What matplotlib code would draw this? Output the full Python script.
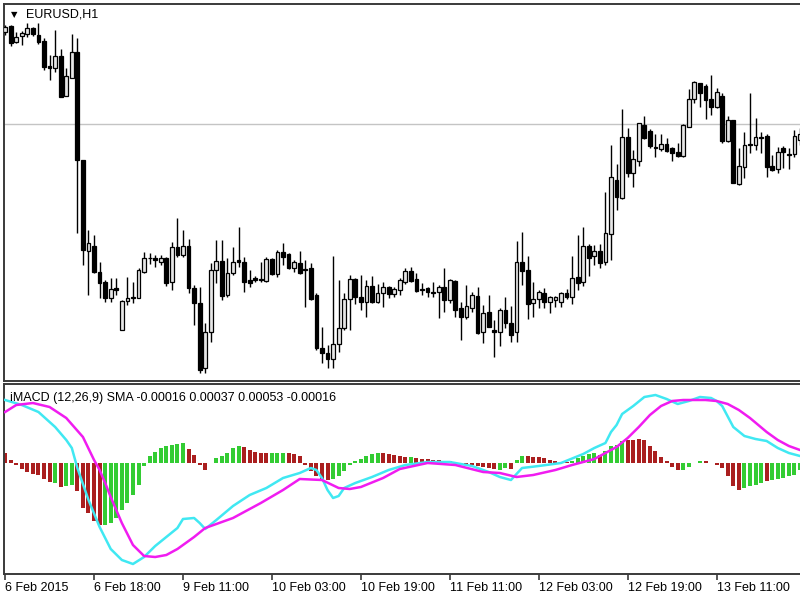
import numpy as np
import matplotlib
matplotlib.use("Agg")
import matplotlib.pyplot as plt

plt.rcParams['font.family'] = ['Liberation Sans', 'DejaVu Sans']

# EURUSD H1 candles, prices in points (1e-5)
opens = [114840,114870,114790,114820,114830,114860,114825,114795,114670,114660,114720,114520,114610,114740,114200,113745,
         113770,113640,113590,113510,113560,113350,113495,113515,113510,113640,113710,113710,113690,113710,113590,113765,
         113725,113770,113560,113485,113160,113340,113650,113695,113525,113635,113700,113690,113600,113610,113605,113595,
         113705,113630,113740,113730,113660,113685,113655,113660,113525,113260,113235,113205,113280,113360,113505,113605,
         113515,113490,113570,113490,113535,113565,113530,113550,113590,113645,113605,113555,113560,113540,113540,113565,
         113500,113595,113460,113415,113460,113520,113340,113440,113350,113340,113450,113385,113340,113690,113650,113485,
         113505,113535,113490,113500,113490,113535,113515,113615,113590,113770,113720,113745,113690,113830,114100,114010,
         114315,114135,114195,114375,114345,114265,114255,114280,114260,114240,114220,114365,114505,114585,114570,114505,
         114465,114520,114295,114400,114080,114165,114280,114275,114315,114320,114170,114155,114260,114230,114230,114300]
highs = [114875,114875,114840,114845,114885,114865,114885,114810,114725,114850,114755,114660,114830,114810,114200,113850,
         113825,113690,113600,113610,113610,113500,113615,113590,113660,113740,113735,113725,113725,113715,113790,113910,
         113850,113805,113575,113565,113385,113685,113800,113800,113710,113765,113865,113715,113650,113620,113690,113715,
         113710,113750,113785,113735,113700,113745,113700,113685,113535,113365,113275,113720,113600,113535,113625,113610,
         113625,113600,113620,113580,113590,113570,113565,113610,113660,113665,113635,113585,113565,113590,113575,113660,
         113605,113600,113490,113575,113540,113565,113475,113525,113400,113460,113515,113470,113795,113840,113720,113590,
         113550,113560,113520,113520,113540,113555,113720,113825,113865,113780,113775,113780,114040,114275,114180,114455,
         114360,114250,114385,114420,114355,114330,114330,114310,114265,114285,114380,114555,114595,114585,114580,114625,
         114560,114535,114420,114400,114260,114340,114535,114410,114340,114330,114225,114265,114270,114260,114350,114360]
lows = [114825,114770,114785,114775,114815,114820,114780,114650,114600,114640,114515,114520,114610,113835,113675,113525,
        113635,113510,113490,113490,113525,113350,113475,113485,113510,113635,113680,113665,113675,113570,113550,113715,
        113715,113535,113375,113135,113135,113290,113585,113500,113515,113625,113665,113540,113565,113590,113590,113590,
        113625,113615,113675,113655,113640,113630,113465,113500,113250,113185,113160,113160,113240,113350,113350,113480,
        113450,113415,113485,113485,113465,113510,113515,113525,113580,113590,113540,113525,113515,113515,113410,113440,
        113485,113415,113300,113405,113440,113330,113285,113365,113215,113270,113360,113290,113290,113575,113405,113415,
        113460,113460,113435,113465,113465,113505,113480,113550,113570,113620,113675,113660,113675,113700,113950,114005,
        114115,114065,114170,114305,114260,114215,114245,114240,114195,114215,114215,114365,114485,114465,114405,114425,
        114460,114285,114290,114085,114075,114110,114235,114250,114235,114115,114145,114135,114160,114155,114215,114275]
closes = [114865,114785,114815,114835,114860,114830,114790,114665,114660,114720,114515,114620,114740,114200,113750,113785,
          113640,113585,113510,113555,113550,113495,113510,113510,113650,113710,113710,113700,113710,113585,113765,113725,
          113770,113560,113485,113150,113340,113650,113695,113520,113635,113690,113690,113590,113585,113600,113600,113705,
          113630,113740,113715,113660,113690,113635,113650,113505,113260,113235,113205,113280,113360,113505,113605,113515,
          113490,113570,113490,113535,113565,113530,113555,113600,113645,113595,113545,113550,113540,113535,113565,113500,
          113600,113450,113415,113470,113525,113335,113435,113365,113340,113450,113385,113325,113690,113645,113480,113505,
          113540,113490,113515,113515,113535,113515,113610,113585,113770,113710,113745,113685,113835,114115,114015,114315,
          114135,114205,114385,114310,114270,114260,114280,114245,114235,114220,114375,114505,114590,114535,114500,114465,
          114540,114295,114400,114085,114170,114275,114275,114315,114310,114165,114150,114240,114240,114225,114320,114330]
bid_line = 114380

date_ticks = [0, 16, 32, 48, 64, 80, 96, 112, 128]
date_labels = ['6 Feb 2015', '6 Feb 18:00', '9 Feb 11:00', '10 Feb 03:00', '10 Feb 19:00',
               '11 Feb 11:00', '12 Feb 03:00', '12 Feb 19:00', '13 Feb 11:00']

# MACD histogram (1e-5) and bar colours: g = green, r = red
hist = [10,3,-2,-6,-9,-11,-12,-16,-19,-20,-24,-23,-22,-28,-45,-50,-58,-62,-62,-60,-55,-47,-40,-32,-22,-3,7,11,15,17,18,19,
        20,14,8,-2,-7,0,5,7,10,15,17,16,13,11,10,10,10,10,10,10,9,7,-2,-8,-13,-16,-17,-16,-13,-8,-2,2,4,7,9,10,10,9,
        8,7,6,6,5,4,4,3,3,2,2,1,0,-1,-2,-3,-4,-5,-6,-7,-5,-6,3,7,7,6,6,5,3,2,1,1,2,5,7,9,10,8,12,17,18,22,
        23,23,24,23,17,12,6,2,-4,-7,-7,-4,0,2,2,0,-2,-5,-13,-23,-27,-25,-23,-22,-20,-18,-17,-16,-15,-13,-12,-7]
hist_col = ("rrrrrrrrr grgg rrrrr ggggg ggggg ggggg rrrr gggggg rrrrr ggg rrrrrrrr ggggggggg rrrrr g "
            "rrrrr rrrrr rrrrr gg r gg rrrrrrrr ggggg r gggg rrrrr rrrrr gggg rrrrrrr gggg r gggggg").replace(' ', '')

macd_idx = [0,3,6,9,11,12,13,15,17,19,21,23,25,27,29,31,32,34,35,36,38,41,44,47,50,53,55,56,57,58,59,60,61,63,66,69,72,
            76,80,84,87,89,91,93,96,100,104,106,108,109,110,111,113,115,117,119,121,123,125,127,128,129,131,133,135,137,
            139,141,143]
macd_val = [63,58,51,36,23,15,-5,-37,-64,-86,-97,-101,-94,-83,-74,-65,-56,-55,-60,-66,-57,-43,-32,-25,-15,-10,-5,-7,-15,
            -27,-35,-33,-25,-20,-14,-7,-2,1,1,-3,-9,-14,-17,-5,-3,0,9,15,20,31,38,49,57,66,68,64,59,62,66,65,62,57,36,27,
            24,22,15,10,7]
sig_idx = [0,2,5,8,11,14,16,17,18,19,21,23,25,27,29,31,34,36,41,46,50,53,57,60,62,64,68,71,76,81,86,89,92,95,99,102,106,
           110,112,114,116,118,120,122,126,128,130,132,134,137,139,141,143]
sig_val = [51,58,60,56,45,26,3,-7,-20,-34,-60,-82,-93,-94,-92,-86,-74,-65,-55,-40,-27,-16,-17,-25,-26,-24,-15,-6,0,-2,-9,
           -10,-14,-12,-7,-2,4,16,25,36,48,57,62,63,63,62,59,53,45,31,23,17,13]

pts = 1e-5
O, H, L, C = (np.array(a) * pts for a in (opens, highs, lows, closes))
x = np.arange(len(O))
spine = '#3a3a3a'

fig = plt.figure(figsize=(8, 6), dpi=100)
ax1 = fig.add_axes([4/800, 1-381/600, 796/800, 377/600])
ax2 = fig.add_axes([4/800, 1-574/600, 796/800, 190/600])

for ax in (ax1, ax2):
    ax.set_xlim(-0.2, 143.0)
    ax.spines['right'].set_visible(False)
    for s in ('left', 'top', 'bottom'):
        ax.spines[s].set_color(spine); ax.spines[s].set_linewidth(1.4)
    ax.set_yticks([])

# price panel
ax1.axhline(bid_line * pts, color='#c4c4c4', lw=1, zorder=1)
ax1.vlines(x, L, H, color='black', lw=1, zorder=2)
up = C >= O
ax1.bar(x[up], (C - O)[up], bottom=O[up], width=0.68, color='#e6e6e6', edgecolor='black', linewidth=0.9, zorder=3)
ax1.bar(x[~up], (C - O)[~up], bottom=O[~up], width=0.68, color='black', edgecolor='black', linewidth=0.9, zorder=3)
ax1.set_ylim(1.13095, 1.14980)
ax1.set_xticks([])
ax1.text(0.0085, 0.972, '\u25bc', transform=ax1.transAxes, fontsize=6, family='DejaVu Sans', va='center')
ax1.text(0.028, 0.971, 'EURUSD,H1', transform=ax1.transAxes, fontsize=9, va='center')

# MACD panel
cols = ['#33cc33' if c == 'g' else '#aa1f1f' for c in hist_col]
ax2.bar(x, hist, width=0.72, color=cols, zorder=2)
ax2.plot(macd_idx, macd_val, color='#40e8f2', lw=1.8, zorder=3)
ax2.plot(sig_idx, sig_val, color='#f01cf0', lw=1.8, zorder=4)
ax2.set_ylim(-111, 79)
ax2.text(0.008, 0.925, 'iMACD (12,26,9) SMA -0.00016 0.00037 0.00053 -0.00016', transform=ax2.transAxes,
         fontsize=9, va='center')
ax2.set_xticks(date_ticks)
ax2.set_xticklabels(date_labels, ha='left', fontsize=9)
ax2.tick_params(axis='x', length=4, width=1.2, color=spine, pad=2)

fig.savefig('out.png', dpi=100, facecolor='white')
